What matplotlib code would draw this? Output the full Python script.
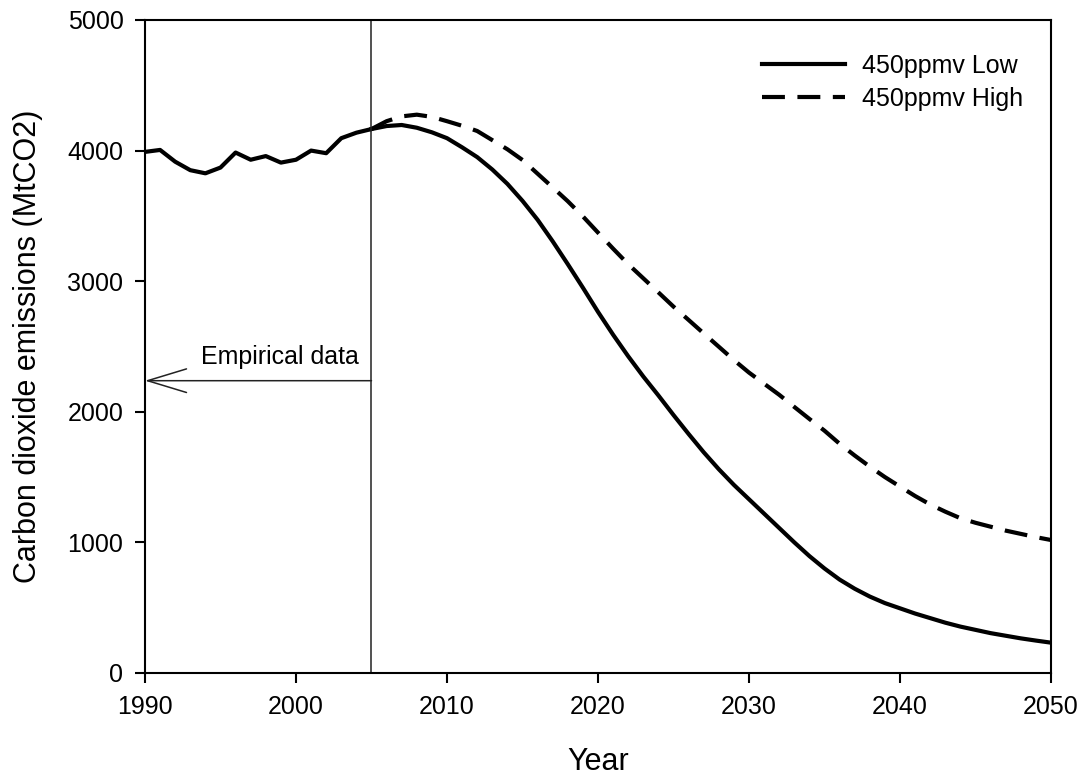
import numpy as np
import matplotlib.pyplot as plt

plt.rcParams['font.family'] = ['Liberation Sans', 'DejaVu Sans']

# 经验数据 1990-2005（MtCO2）
years_hist = list(range(1990, 2006))
emis_hist = [3990, 4005, 3915, 3850, 3826, 3870, 3985, 3930, 3958, 3908,
             3930, 4000, 3980, 4095, 4137, 4165]

# 情景预测 2005-2050
years_proj = list(range(2005, 2051))
emis_low = [4165, 4188, 4196, 4175, 4140, 4095, 4025, 3950, 3855, 3745,
            3615, 3470, 3305, 3130, 2950, 2765, 2590, 2425, 2270, 2125,
            1975, 1830, 1690, 1560, 1440, 1330, 1220, 1110, 1000, 895,
            800, 715, 645, 585, 535, 495, 455, 420, 385, 355,
            330, 305, 285, 265, 248, 232]
emis_high = [4165, 4225, 4262, 4275, 4258, 4225, 4190, 4150, 4080, 4010,
             3928, 3823, 3718, 3612, 3496, 3372, 3249, 3130, 3022, 2914,
             2805, 2703, 2600, 2498, 2396, 2300, 2215, 2130, 2037, 1945,
             1855, 1755, 1665, 1580, 1500, 1427, 1355, 1290, 1235, 1185,
             1150, 1120, 1090, 1065, 1040, 1018]

split_year = 2005
arrow_level = 2238

fig = plt.figure(figsize=(10.86, 7.78), dpi=100)
ax = fig.add_axes([0.1335, 0.135, 0.8343, 0.8393])

ax.plot(years_hist, emis_hist, color='black', lw=3, solid_joinstyle='round',
        solid_capstyle='round')
ax.plot(years_proj, emis_low, color='black', lw=3, solid_joinstyle='round',
        label='450ppmv Low')
ax.plot(years_proj, emis_high, color='black', lw=3, dashes=(5.5, 3),
        label='450ppmv High')

# 经验数据分界线与箭头
ax.axvline(split_year, color='#222222', lw=1.1)
ax.annotate('', xy=(1990, arrow_level), xytext=(split_year, arrow_level),
            arrowprops=dict(arrowstyle='->, head_length=2.8, head_width=0.85',
                            color='#222222', lw=1.1, shrinkA=0, shrinkB=0))
ax.text(1993.7, 2420, 'Empirical data', ha='left', va='center', fontsize=18)

ax.set_xlim(1990, 2050)
ax.set_ylim(0, 5000)
ax.set_xticks(range(1990, 2051, 10))
ax.set_yticks(range(0, 5001, 1000))
ax.tick_params(direction='out', length=7, width=1.5, labelsize=18,
               top=False, right=False)
ax.tick_params(axis='x', pad=9)
ax.tick_params(axis='y', pad=8.5)
for s in ax.spines.values():
    s.set_linewidth(1.5)

ax.set_xlabel('Year', fontsize=22)
ax.set_ylabel('Carbon dioxide emissions (MtCO2)', fontsize=22)
ax.xaxis.set_label_coords(0.5, -0.114)
ax.yaxis.set_label_coords(-0.1126, 0.5)

ax.legend(loc='upper right', bbox_to_anchor=(1 - 18 / 906, 1 - 24 / 653),
          borderaxespad=0, frameon=False, fontsize=18, handlelength=3.3,
          handletextpad=0.68, labelspacing=0.35)

fig.savefig('out.png', dpi=100)
